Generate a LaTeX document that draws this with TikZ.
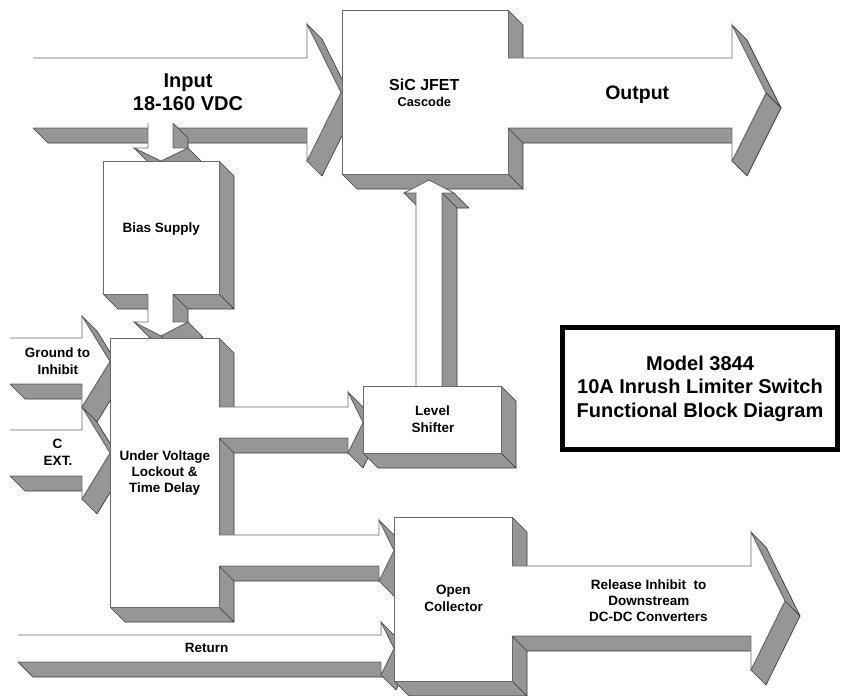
\documentclass[tikz,border=0pt]{standalone}
\usepackage{fontspec}
\setmainfont{Liberation Sans}
\usetikzlibrary{calc}
\definecolor{sidegray}{RGB}{150,150,150}
\definecolor{sideedge}{RGB}{60,60,60}
\definecolor{frontedge}{RGB}{105,105,105}
\tikzset{
  sidef/.style={fill=sidegray, draw=sideedge, line width=0.7pt, line join=round},
  fronts/.style={draw=frontedge, line width=0.9pt, line join=miter},
  blk/.style={draw=frontedge, fill=white, line width=0.9pt, inner sep=0pt, outer sep=0pt},
  lbl/.style={anchor=base, inner sep=0pt, font=\bfseries\fontsize{13.5}{16}\selectfont},
  biglbl/.style={anchor=base, inner sep=0pt, font=\bfseries\fontsize{20}{23}\selectfont},
  titlebox/.style={draw=black, line width=5pt, fill=white, minimum width=275, minimum height=122,
     align=center, inner sep=0pt, font=\bfseries\fontsize{20}{23.5}\selectfont}
}
% side face of an edge, extruded by (15,15) px down-right
\newcommand\sface[2]{\filldraw[sidef] (#1) -- (#2) -- ($(#2)+(15,15)$) -- ($(#1)+(15,15)$) -- cycle;}
% right arrow: x0, xh, top, bottom, head top, head bottom, tip x
\newcommand\rarrow[7]{%
  \pgfmathsetmacro\ym{(#5+#6)/2}
  \sface{#1,#4}{#2,#4}
  \sface{#2,#5}{#7,\ym}
  \sface{#7,\ym}{#2,#6}
  \fill[white] (#1-0.8,#3) -- (#2,#3) -- (#2,#5) -- (#7,\ym) -- (#2,#6) -- (#2,#4) -- (#1-0.8,#4) -- cycle;
  \draw[fronts] (#1,#3) -- (#2,#3) -- (#2,#5) -- (#7,\ym) -- (#2,#6) -- (#2,#4) -- (#1,#4);
}
% down arrow: xl, xr, y0, head base, wing l, wing r, tip y
\newcommand\darrow[7]{%
  \pgfmathsetmacro\xm{(#5+#6)/2}
  \sface{#2,#3}{#2,#4}
  \sface{#6,#4}{\xm,#7}
  \sface{\xm,#7}{#5,#4}
  \fill[white] (#1,#3-0.8) -- (#2,#3-0.8) -- (#2,#4) -- (#6,#4) -- (\xm,#7) -- (#5,#4) -- (#1,#4) -- cycle;
  \draw[fronts] (#2,#3) -- (#2,#4) -- (#6,#4) -- (\xm,#7) -- (#5,#4) -- (#1,#4) -- (#1,#3);
}
% up arrow: xl, xr, y0 (bottom), head base, wing l, wing r, tip y
\newcommand\uarrow[7]{%
  \pgfmathsetmacro\xm{(#5+#6)/2}
  \sface{#1,#4}{#5,#4}
  \sface{#6,#4}{#2,#4}
  \sface{#2,#4}{#2,#3}
  \fill[white] (#1,#3+0.8) -- (#1,#4) -- (#5,#4) -- (\xm,#7) -- (#6,#4) -- (#2,#4) -- (#2,#3+0.8) -- cycle;
  \draw[fronts] (#1,#3) -- (#1,#4) -- (#5,#4) -- (\xm,#7) -- (#6,#4) -- (#2,#4) -- (#2,#3);
}
% 3D block: name, x0, y0, x1, y1
\newcommand\blok[5]{%
  \sface{#4,#3}{#4,#5}
  \sface{#2,#5}{#4,#5}
  \node[blk, minimum width={#4-#2}, minimum height={#5-#3}, anchor=north west] (#1) at (#2,#3) {};
}
\begin{document}
\begin{tikzpicture}[x=1pt, y=-1pt]
\useasboundingbox (0,0) rectangle (844,696);
\fill[white] (0,0) rectangle (844,696);

% Input arrow, SiC block, Output arrow
\rarrow{33}{307}{58}{128}{24}{161}{341}
\blok{sic}{342}{10}{508}{174}
\rarrow{508}{732}{58}{128}{25}{161}{766}

% Input -> Bias supply
\darrow{148}{173}{123}{148}{134}{188}{161}
\blok{bias}{103}{161}{219}{294}
\darrow{148}{173}{294}{322}{134}{188}{336}

% Ground to Inhibit, C EXT.
\rarrow{10}{82}{338}{384}{316}{407}{110}
\rarrow{10}{82}{430}{476}{407}{499}{110}

% Under voltage lockout
\blok{uvlo}{110}{338}{219}{607}
\rarrow{219}{348}{407}{438}{392}{453}{363}

% Level shifter -> SiC
\uarrow{416}{442}{386}{193}{404}{454}{180}
\blok{ls}{363}{386}{501}{453}

% UVLO -> Open collector, Return
\rarrow{219}{379}{535}{566}{520}{581}{394}
\rarrow{18}{381}{635}{662}{622}{675}{394}
\blok{oc}{394}{517}{512}{681}
\rarrow{512}{751}{566}{636}{532}{670}{785}

% Title
\node[titlebox] (title) at (700,388.5) {Model 3844\\10A Inrush Limiter Switch\\Functional Block Diagram};

% Labels
\node[biglbl] (tin1) at (188,87.2) {Input};
\node[biglbl] (tin2) at (188,110.4) {18-160 VDC};
\node[anchor=base, inner sep=0pt, font=\bfseries\fontsize{16}{19}\selectfont] (tsic1) at (424.3,90) {SiC JFET};
\node[anchor=base, inner sep=0pt, font=\bfseries\fontsize{12.8}{15}\selectfont] (tsic2) at (424.3,106.7) {Cascode};
\node[biglbl, font=\bfseries\fontsize{19.5}{23}\selectfont] (tout) at (637.2,99) {Output};
\node[lbl] (tbias) at (161.3,232.3) {Bias Supply};
\node[lbl] (tgnd1) at (57.5,357.7) {Ground to};
\node[lbl] (tgnd2) at (57.8,374) {Inhibit};
\node[lbl] (tc1) at (57.5,448.3) {C};
\node[lbl] (tc2) at (58,465.7) {EXT.};
\node[lbl] (tuv1) at (164.8,460.7) {Under Voltage};
\node[lbl] (tuv2) at (164.7,476.7) {Lockout \&};
\node[lbl] (tuv3) at (164.7,492.7) {Time Delay};
\node[lbl] (tls1) at (432.5,415.7) {Level};
\node[lbl] (tls2) at (433,432.3) {Shifter};
\node[lbl] (toc1) at (453.3,594.3) {Open};
\node[lbl] (toc2) at (453.7,611) {Collector};
\node[lbl] (trel1) at (648.7,589) {Release Inhibit\ \ to};
\node[lbl] (trel2) at (648.8,605) {Downstream};
\node[lbl] (trel3) at (648.5,621) {DC-DC Converters};
\node[lbl] (tret) at (206.7,652.7) {Return};
\end{tikzpicture}
\end{document}
